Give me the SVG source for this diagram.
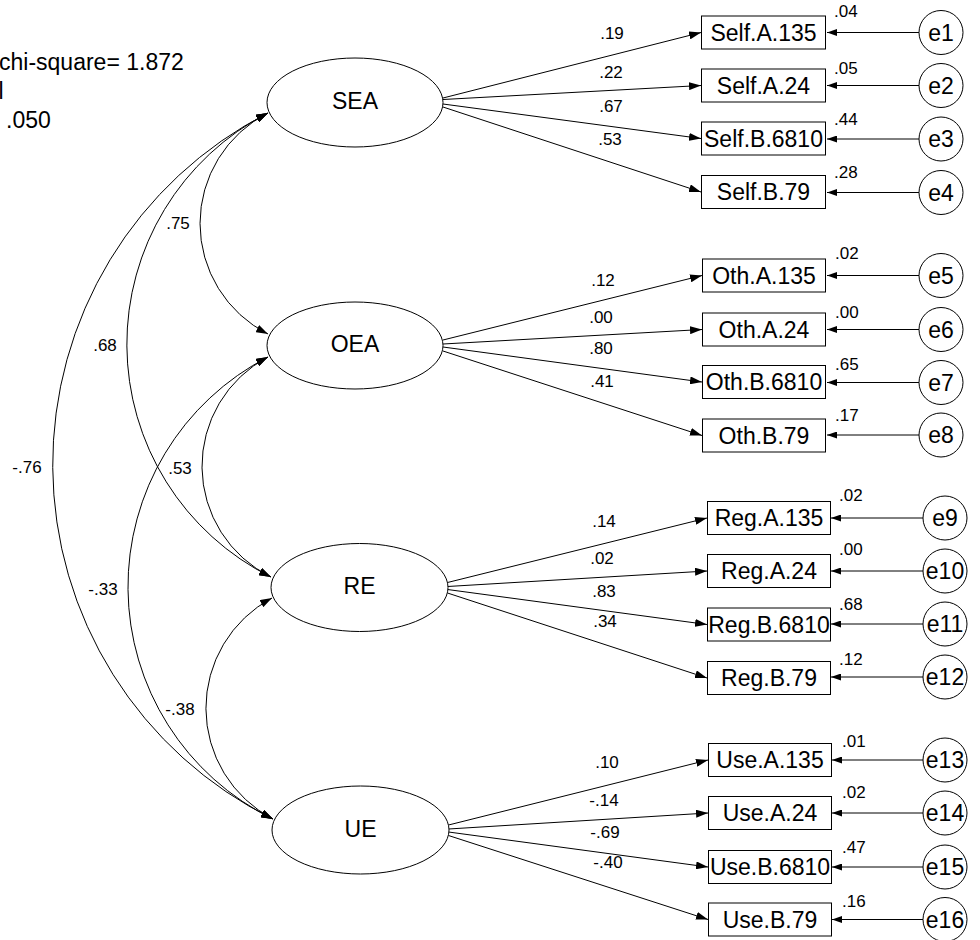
<svg xmlns="http://www.w3.org/2000/svg" width="980" height="940" viewBox="0 0 980 940">
  <defs>
    <marker id="arr" viewBox="0 0 12 8" refX="12" refY="4" markerWidth="12" markerHeight="8" markerUnits="userSpaceOnUse" orient="auto-start-reverse">
      <path d="M0,0 L12,4 L0,8 z" fill="#000"/>
    </marker>
    <marker id="arrS" viewBox="0 0 10 7" refX="10" refY="3.5" markerWidth="10" markerHeight="7" markerUnits="userSpaceOnUse" orient="auto">
      <path d="M0,0 L10,3.5 L0,7 z" fill="#000"/>
    </marker>
  </defs>
  <style>
    text { font-family: "Liberation Sans", Arial, sans-serif; fill: #000; }
    .big { font-size: 23px; }
    .sm { font-size: 17px; }
    .mid { text-anchor: middle; }
    .shape { fill: #fff; stroke: #000; stroke-width: 1; }
    .ln { fill: none; stroke: #000; stroke-width: 1; }
    .load { marker-end: url(#arr); }
    .err { marker-end: url(#arrS); }
    .cov { marker-start: url(#arr); marker-end: url(#arr); }
  </style>

  <rect width="980" height="940" fill="#fff"/>

  <!-- fit statistics -->
  <g id="fit">
    <text class="big" x="-1" y="70">chi-square= 1.872</text>
    <text class="big" x="-1.5" y="99">l</text>
    <text class="big" x="6" y="128">.050</text>
  </g>

  <!-- connectors -->
  <g id="connectors">
    <!-- covariances between latent factors -->
    <path class="ln cov" d="M268,113 A123.8,123.8 0 0 0 268,334"/>
    <path class="ln cov" d="M268,113 A260,260 0 0 0 271,577"/>
    <path class="ln cov" d="M268,113 A395,395 0 0 0 273,819"/>
    <path class="ln cov" d="M268,357 A123.4,123.4 0 0 0 271,577"/>
    <path class="ln cov" d="M268,357 A258.5,258.5 0 0 0 273,819"/>
    <path class="ln cov" d="M272,598 A125,125 0 0 0 273,819"/>

    <!-- SEA loadings -->
    <line class="ln load" x1="443" y1="98" x2="701" y2="32.5"/>
    <line class="ln load" x1="443" y1="99.5" x2="701" y2="85.5"/>
    <line class="ln load" x1="443" y1="104" x2="701" y2="138.5"/>
    <line class="ln load" x1="443" y1="107" x2="701" y2="192"/>
    <!-- OEA loadings -->
    <line class="ln load" x1="443" y1="340" x2="702" y2="275.5"/>
    <line class="ln load" x1="443" y1="344" x2="702" y2="329.5"/>
    <line class="ln load" x1="443" y1="347" x2="702" y2="382"/>
    <line class="ln load" x1="443" y1="351" x2="702" y2="435.5"/>
    <!-- RE loadings -->
    <line class="ln load" x1="447.5" y1="582.5" x2="707" y2="518"/>
    <line class="ln load" x1="447.5" y1="586.5" x2="707" y2="571"/>
    <line class="ln load" x1="447.5" y1="589.5" x2="707" y2="624.5"/>
    <line class="ln load" x1="447.5" y1="593" x2="707" y2="678"/>
    <!-- UE loadings -->
    <line class="ln load" x1="448.5" y1="825" x2="708" y2="760"/>
    <line class="ln load" x1="448.5" y1="829" x2="708" y2="813"/>
    <line class="ln load" x1="448.5" y1="832" x2="708" y2="867"/>
    <line class="ln load" x1="448.5" y1="835.5" x2="708" y2="919.5"/>

    <!-- error terms -->
    <line class="ln err" x1="919" y1="32.5" x2="827" y2="32.5"/>
    <line class="ln err" x1="919" y1="85.5" x2="827" y2="85.5"/>
    <line class="ln err" x1="919" y1="139" x2="827" y2="139"/>
    <line class="ln err" x1="919" y1="192.5" x2="827" y2="192.5"/>
    <line class="ln err" x1="919" y1="275.5" x2="827" y2="275.5"/>
    <line class="ln err" x1="919" y1="329.5" x2="827" y2="329.5"/>
    <line class="ln err" x1="919" y1="382.5" x2="827" y2="382.5"/>
    <line class="ln err" x1="919" y1="435" x2="827" y2="435"/>
    <line class="ln err" x1="923" y1="518" x2="831" y2="518"/>
    <line class="ln err" x1="923" y1="571" x2="831" y2="571"/>
    <line class="ln err" x1="923" y1="624" x2="831" y2="624"/>
    <line class="ln err" x1="923" y1="677" x2="831" y2="677"/>
    <line class="ln err" x1="923" y1="760" x2="832" y2="760"/>
    <line class="ln err" x1="923" y1="813" x2="832" y2="813"/>
    <line class="ln err" x1="923" y1="867" x2="832" y2="867"/>
    <line class="ln err" x1="923" y1="919.5" x2="832" y2="919.5"/>

    <!-- coefficient labels -->
    <text class="sm mid" x="178" y="229">.75</text>
    <text class="sm mid" x="105" y="351">.68</text>
    <text class="sm mid" x="27" y="473">-.76</text>
    <text class="sm mid" x="180" y="474">.53</text>
    <text class="sm mid" x="103" y="595">-.33</text>
    <text class="sm mid" x="180" y="715">-.38</text>

    <text class="sm mid" x="612" y="39">.19</text>
    <text class="sm mid" x="611" y="78">.22</text>
    <text class="sm mid" x="611" y="112">.67</text>
    <text class="sm mid" x="610" y="145">.53</text>
    <text class="sm mid" x="603" y="286">.12</text>
    <text class="sm mid" x="601" y="323">.00</text>
    <text class="sm mid" x="601" y="354">.80</text>
    <text class="sm mid" x="602" y="387">.41</text>
    <text class="sm mid" x="604" y="527">.14</text>
    <text class="sm mid" x="602" y="564">.02</text>
    <text class="sm mid" x="604" y="597">.83</text>
    <text class="sm mid" x="605" y="627">.34</text>
    <text class="sm mid" x="607" y="768">.10</text>
    <text class="sm mid" x="604" y="806">-.14</text>
    <text class="sm mid" x="605" y="838">-.69</text>
    <text class="sm mid" x="608" y="868">-.40</text>
  </g>

  <!-- latent factors -->
  <g id="SEA"><ellipse class="shape" cx="355" cy="102.5" rx="88" ry="44.5"/><text class="big mid" x="355" y="108.5">SEA</text></g>
  <g id="OEA"><ellipse class="shape" cx="355" cy="345.5" rx="88" ry="43.5"/><text class="big mid" x="355" y="351.5">OEA</text></g>
  <g id="RE"><ellipse class="shape" cx="359.5" cy="587.5" rx="88.5" ry="44"/><text class="big mid" x="359.5" y="594">RE</text></g>
  <g id="UE"><ellipse class="shape" cx="360.5" cy="830" rx="88.5" ry="44"/><text class="big mid" x="360.5" y="836.5">UE</text></g>

  <!-- observed indicators -->
  <g id="SelfA135"><rect class="shape" x="701.5" y="16" width="124" height="33"/><text class="big mid" x="763.5" y="40.5">Self.A.135</text><text class="sm" x="834" y="17">.04</text></g>
  <g id="SelfA24"><rect class="shape" x="701.5" y="69" width="124" height="33"/><text class="big mid" x="763.5" y="93.5">Self.A.24</text><text class="sm" x="834" y="74">.05</text></g>
  <g id="SelfB6810"><rect class="shape" x="701.5" y="122" width="124" height="33"/><text class="big mid" x="763.5" y="146.5">Self.B.6810</text><text class="sm" x="834" y="125">.44</text></g>
  <g id="SelfB79"><rect class="shape" x="701.5" y="175.5" width="124" height="33"/><text class="big mid" x="763.5" y="200">Self.B.79</text><text class="sm" x="834" y="178">.28</text></g>

  <g id="OthA135"><rect class="shape" x="702.5" y="259" width="123" height="33"/><text class="big mid" x="764" y="283.5">Oth.A.135</text><text class="sm" x="835" y="259">.02</text></g>
  <g id="OthA24"><rect class="shape" x="702.5" y="313" width="123" height="33"/><text class="big mid" x="764" y="337.5">Oth.A.24</text><text class="sm" x="835" y="318">.00</text></g>
  <g id="OthB6810"><rect class="shape" x="702.5" y="365.5" width="123" height="33"/><text class="big mid" x="764" y="390">Oth.B.6810</text><text class="sm" x="835" y="370">.65</text></g>
  <g id="OthB79"><rect class="shape" x="702.5" y="419" width="123" height="33"/><text class="big mid" x="764" y="443.5">Oth.B.79</text><text class="sm" x="835" y="421">.17</text></g>

  <g id="RegA135"><rect class="shape" x="707.5" y="501.5" width="123" height="33"/><text class="big mid" x="769" y="526">Reg.A.135</text><text class="sm" x="839" y="501">.02</text></g>
  <g id="RegA24"><rect class="shape" x="707.5" y="554.5" width="123" height="33"/><text class="big mid" x="769" y="579">Reg.A.24</text><text class="sm" x="839" y="555">.00</text></g>
  <g id="RegB6810"><rect class="shape" x="707.5" y="608" width="123" height="33"/><text class="big mid" x="769" y="632.5">Reg.B.6810</text><text class="sm" x="839" y="610">.68</text></g>
  <g id="RegB79"><rect class="shape" x="707.5" y="661.5" width="123" height="33"/><text class="big mid" x="769" y="686">Reg.B.79</text><text class="sm" x="839" y="665">.12</text></g>

  <g id="UseA135"><rect class="shape" x="708.5" y="743.5" width="123" height="33"/><text class="big mid" x="770" y="768">Use.A.135</text><text class="sm" x="842" y="747">.01</text></g>
  <g id="UseA24"><rect class="shape" x="708.5" y="796.5" width="123" height="33"/><text class="big mid" x="770" y="821">Use.A.24</text><text class="sm" x="842" y="798">.02</text></g>
  <g id="UseB6810"><rect class="shape" x="708.5" y="850.5" width="123" height="33"/><text class="big mid" x="770" y="875">Use.B.6810</text><text class="sm" x="842" y="853">.47</text></g>
  <g id="UseB79"><rect class="shape" x="708.5" y="903" width="123" height="33"/><text class="big mid" x="770" y="927.5">Use.B.79</text><text class="sm" x="842" y="907">.16</text></g>

  <!-- residual terms -->
  <g id="e1"><circle class="shape" cx="941" cy="32.5" r="22"/><text class="big mid" x="941" y="40.5">e1</text></g>
  <g id="e2"><circle class="shape" cx="941" cy="85.5" r="22"/><text class="big mid" x="941" y="93.5">e2</text></g>
  <g id="e3"><circle class="shape" cx="941" cy="139" r="22"/><text class="big mid" x="941" y="147">e3</text></g>
  <g id="e4"><circle class="shape" cx="941" cy="192.5" r="22"/><text class="big mid" x="941" y="200.5">e4</text></g>
  <g id="e5"><circle class="shape" cx="941" cy="275.5" r="22"/><text class="big mid" x="941" y="283.5">e5</text></g>
  <g id="e6"><circle class="shape" cx="941" cy="329.5" r="22"/><text class="big mid" x="941" y="337.5">e6</text></g>
  <g id="e7"><circle class="shape" cx="941" cy="382.5" r="22"/><text class="big mid" x="941" y="390.5">e7</text></g>
  <g id="e8"><circle class="shape" cx="941" cy="435" r="22"/><text class="big mid" x="941" y="443">e8</text></g>
  <g id="e9"><circle class="shape" cx="945" cy="518" r="22"/><text class="big mid" x="945" y="526">e9</text></g>
  <g id="e10"><circle class="shape" cx="945" cy="571" r="22"/><text class="big mid" x="945" y="579">e10</text></g>
  <g id="e11"><circle class="shape" cx="945" cy="624" r="22"/><text class="big mid" x="945" y="632">e11</text></g>
  <g id="e12"><circle class="shape" cx="945" cy="677" r="22"/><text class="big mid" x="945" y="685">e12</text></g>
  <g id="e13"><circle class="shape" cx="945" cy="760" r="22"/><text class="big mid" x="945" y="768">e13</text></g>
  <g id="e14"><circle class="shape" cx="945" cy="813" r="22"/><text class="big mid" x="945" y="821">e14</text></g>
  <g id="e15"><circle class="shape" cx="945" cy="867" r="22"/><text class="big mid" x="945" y="875">e15</text></g>
  <g id="e16"><circle class="shape" cx="945" cy="919.5" r="22"/><text class="big mid" x="945" y="927.5">e16</text></g>
</svg>
